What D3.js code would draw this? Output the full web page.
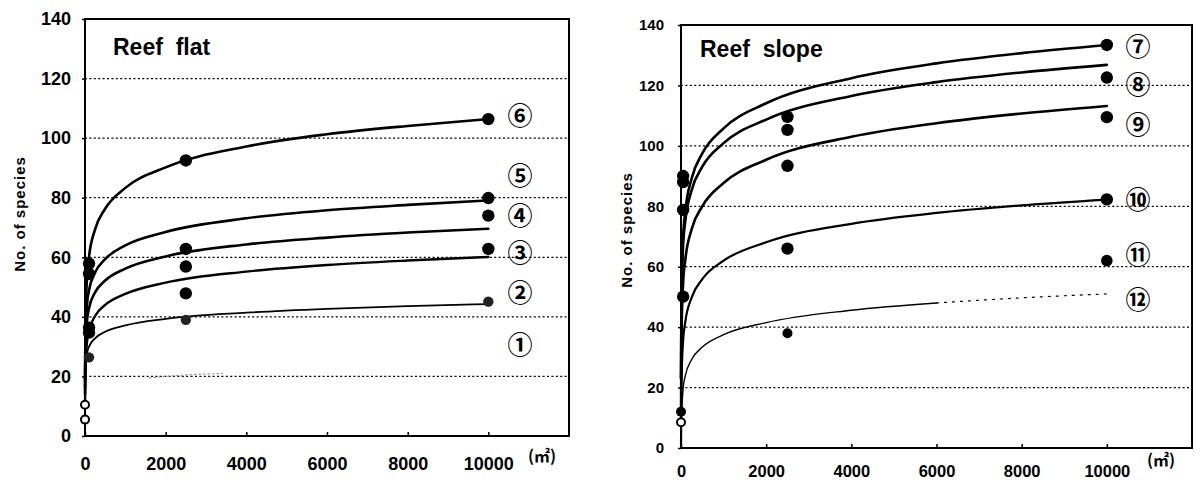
<!DOCTYPE html>
<html>
<head>
<meta charset="utf-8">
<script src="https://cdn.jsdelivr.net/npm/d3@7"></script>
<style>
  body { margin: 0; background: #fff; }
  svg { display: block; }
  text { font-family: "Liberation Sans", Arial, sans-serif; font-weight: bold; fill: #000; }
  .circ { font-family: "Noto Sans CJK JP", "DejaVu Sans", sans-serif; font-weight: bold; }
</style>
</head>
<body>
<script>
// sampled areas (m2) along the fitted curves
const areas = [1, 10, 50, 100, 250, 500, 1000, 2000, 4000, 6000, 8000, 10000];

// Reef flat curves
const flat6 = [14.0, 37.1, 53.2, 60.2, 69.4, 76.3, 83.3, 90.2, 97.2, 101.3, 104.1, 106.4];
const flat5 = [18.6, 33.7, 44.3, 48.9, 54.9, 59.4, 64.0, 68.5, 73.1, 75.8, 77.6, 79.1];
const flat4 = [16.1, 29.5, 38.8, 42.9, 48.2, 52.2, 56.2, 60.3, 64.3, 66.6, 68.3, 69.6];
const flat3 = [10.5, 22.9, 31.6, 35.3, 40.3, 44.0, 47.7, 51.5, 55.2, 57.4, 58.9, 60.1];
const flat2 = [15.7, 22.8, 27.8, 30.0, 32.8, 35.0, 37.1, 39.3, 41.4, 42.7, 43.6, 44.3];
// curve 1 barely survived the scan, only a faint piece near 20
const flat1Areas = [1600, 2500, 3400];
const flat1 = [19.5, 20.5, 21.0];

// Reef slope curves
const slope7 = [22.9, 50.5, 69.8, 78.2, 89.2, 97.5, 105.8, 114.1, 122.4, 127.3, 130.7, 133.4];
const slope8 = [23.1, 49.0, 67.1, 75.0, 85.3, 93.1, 100.9, 108.7, 116.5, 121.1, 124.3, 126.8];
const slope9 = [11.3, 36.8, 54.6, 62.2, 72.4, 80.0, 87.7, 95.4, 103.0, 107.5, 110.7, 113.2];
const slope10 = [1.2, 21.5, 35.6, 41.7, 49.8, 55.9, 62.0, 68.1, 74.2, 77.8, 80.3, 82.2];
const slope12 = [null, 10.3, 19.8, 23.9, 29.3, 33.4, 37.5, 41.5, 45.6, 48.0, 49.7, 51.0];

// observed points: quadrat areas and species counts
const flatPtAreas = [100, 2500, 10000];
const flatPts6 = [57.9, 92.5, 106.4];
const flatPts5 = [54.4, 62.8, 79.9];
const flatPts4 = [36.4, 56.9, 74.0];
const flatPts3 = [34.7, 47.9, 62.8];
const flatPts2 = [26.4, 39.0, 45.1];
const flatPts1 = [10.5, 5.5];          // broken marks at the origin

const slopePtAreas = [50, 2500, 10000];
const slopePts7 = [90.0, 109.6, 133.4];
const slopePts8 = [88.0, 105.3, 122.6];
const slopePts9 = [78.8, 93.4, 109.5];
const slopePts10 = [50.1, 66.0, 82.3];
const slopePts11 = [null, null, 62.0];
const slopePts12 = [12.0, 38.0];
const slopePts12b = [8.5];

// labels
const flatNames = ["⑥", "⑤", "④", "③", "②", "①"];
const flatNameAt = [107.4, 87.2, 73.7, 61.6, 48.1, 30.6];
const slopeNames = ["⑦", "⑧", "⑨", "⑩", "⑪", "⑫"];
const slopeNameAt = [132.7, 120.2, 106.9, 82.1, 63.9, 49.0];

const xTicks = [0, 2000, 4000, 6000, 8000, 10000];
const yTicks = [0, 20, 40, 60, 80, 100, 120, 140];
const gridVals = [20, 40, 60, 80, 100, 120];

const svg = d3.select("body").append("svg")
    .attr("width", 1200)
    .attr("height", 484);

function drawPanel(p) {
    const x = d3.scaleLinear().domain([0, 12000]).range([p.left, p.right]);
    const y = d3.scaleLinear().domain([0, 140]).range([p.bottom, p.top]);
    const g = svg.append("g");

    // dotted grid
    g.selectAll(".grid").data(gridVals).enter().append("line")
        .attr("x1", p.left).attr("x2", p.right)
        .attr("y1", d => y(d)).attr("y2", d => y(d))
        .attr("stroke", "#000").attr("stroke-width", 1.3)
        .attr("stroke-dasharray", "2,2.4");

    // axes
    const ax = g.append("g").attr("transform", "translate(0," + p.bottom + ")")
        .call(d3.axisBottom(x).tickValues(xTicks).tickSize(-4).tickFormat(d3.format("d")));
    ax.select(".domain").remove();
    ax.selectAll("line").attr("stroke", "#000").attr("stroke-width", 1.5);
    ax.selectAll("text").attr("y", p.xLabOff).attr("dy", null)
        .style("font-size", p.xFont + "px")
        .style("font-family", "'Liberation Sans', Arial, sans-serif").style("font-weight", "bold");

    const ay = g.append("g").attr("transform", "translate(" + p.left + ",0)")
        .call(d3.axisLeft(y).tickValues(yTicks).tickSize(3).tickPadding(p.yPad));
    ay.select(".domain").remove();
    ay.selectAll("line").attr("stroke", "#000").attr("stroke-width", 1.5);
    ay.selectAll("text")
        .style("font-size", p.yFont + "px")
        .style("font-family", "'Liberation Sans', Arial, sans-serif").style("font-weight", "bold");

    // frame
    g.append("rect")
        .attr("x", p.left).attr("y", p.top)
        .attr("width", p.right - p.left).attr("height", p.bottom - p.top)
        .attr("fill", "none").attr("stroke", "#000").attr("stroke-width", 2);

    const line = d3.line()
        .defined(d => d[1] != null)
        .x(d => x(d[0])).y(d => y(d[1]))
        .curve(d3.curveMonotoneX);

    p.curves.forEach(c => {
        const pts = c.xs.map((a, i) => [a, c.vals[i]]);
        g.append("path")
            .attr("d", line(pts))
            .attr("fill", "none")
            .attr("stroke", c.color || "#000")
            .attr("stroke-width", c.w)
            .attr("stroke-dasharray", c.dash || null)
            .attr("stroke-linecap", "round");
    });

    p.points.forEach(s => {
        s.vals.forEach((v, i) => {
            if (v == null) return;
            const c = g.append("circle")
                .attr("cx", x(s.xs[i])).attr("cy", y(v))
                .attr("r", s.r || 6.2);
            if (s.hollow) {
                c.attr("fill", "#fff").attr("stroke", "#000").attr("stroke-width", 2).attr("r", 4);
            } else {
                c.attr("fill", s.fill || "#000");
            }
        });
    });

    // circled series numbers
    g.selectAll(".lab").data(p.names).enter().append("text")
        .attr("class", "circ")
        .attr("x", p.labX)
        .attr("y", (d, i) => y(p.nameAt[i]))
        .attr("dy", "0.36em")
        .attr("text-anchor", "middle")
        .style("font-size", "25px")
        .text(d => d);

    // title
    g.append("text")
        .attr("x", p.titleX).attr("y", p.titleY)
        .style("font-size", p.titleFont + "px")
        .style("white-space", "pre")
        .attr("xml:space", "preserve")
        .text(p.title);

    // y axis title
    g.append("text")
        .attr("transform", "translate(" + p.yTitleX + "," + p.yTitleY + ") rotate(-90)")
        .attr("text-anchor", "middle")
        .attr("dy", "0.35em")
        .style("font-size", "15px")
        .style("letter-spacing", "1px")
        .text("No. of species");

    // unit
    g.append("text")
        .attr("class", "circ")
        .attr("x", p.unitX).attr("y", p.unitY)
        .style("font-size", "16px")
        .text("(㎡)");
}

drawPanel({
    left: 85, right: 569, top: 19, bottom: 436,
    xFont: 18, yFont: 18, xLabOff: 34, yPad: 11,
    title: "Reef  flat", titleX: 113, titleY: 55, titleFont: 23,
    yTitleX: 20, yTitleY: 214,
    unitX: 528, unitY: 462,
    labX: 520, names: flatNames, nameAt: flatNameAt,
    curves: [
        { xs: areas, vals: flat6, w: 2.6 },
        { xs: areas, vals: flat5, w: 2.6 },
        { xs: areas, vals: flat4, w: 2.6 },
        { xs: areas, vals: flat3, w: 2.4 },
        { xs: areas, vals: flat2, w: 1.8 },
        { xs: flat1Areas, vals: flat1, w: 1.2, color: "#999", dash: "1.5,3" }
    ],
    points: [
        { xs: flatPtAreas, vals: flatPts6 },
        { xs: flatPtAreas, vals: flatPts5 },
        { xs: flatPtAreas, vals: flatPts4 },
        { xs: flatPtAreas, vals: flatPts3 },
        { xs: flatPtAreas, vals: flatPts2, r: 5.2, fill: "#222" },
        { xs: [0, 0], vals: flatPts1, hollow: true }
    ]
});

drawPanel({
    left: 681, right: 1192, top: 25, bottom: 448,
    xFont: 16.5, yFont: 15, xLabOff: 29, yPad: 14,
    title: "Reef  slope", titleX: 700, titleY: 57, titleFont: 23,
    yTitleX: 627, yTitleY: 230,
    unitX: 1147, unitY: 466,
    labX: 1138, names: slopeNames, nameAt: slopeNameAt,
    curves: [
        { xs: areas, vals: slope7, w: 2.6 },
        { xs: areas, vals: slope8, w: 2.6 },
        { xs: areas, vals: slope9, w: 2.6 },
        { xs: areas, vals: slope10, w: 2.2 },
        { xs: areas.slice(0, 10), vals: slope12.slice(0, 10), w: 1.4 },
        { xs: areas.slice(9), vals: slope12.slice(9), w: 1.2, dash: "2,6" }
    ],
    points: [
        { xs: slopePtAreas, vals: slopePts7 },
        { xs: slopePtAreas, vals: slopePts8 },
        { xs: slopePtAreas, vals: slopePts9 },
        { xs: slopePtAreas, vals: slopePts10 },
        { xs: slopePtAreas, vals: slopePts11, r: 5.8 },
        { xs: [0, 2500], vals: slopePts12, r: 5 },
        { xs: [0], vals: slopePts12b, hollow: true }
    ]
});
</script>
</body>
</html>
